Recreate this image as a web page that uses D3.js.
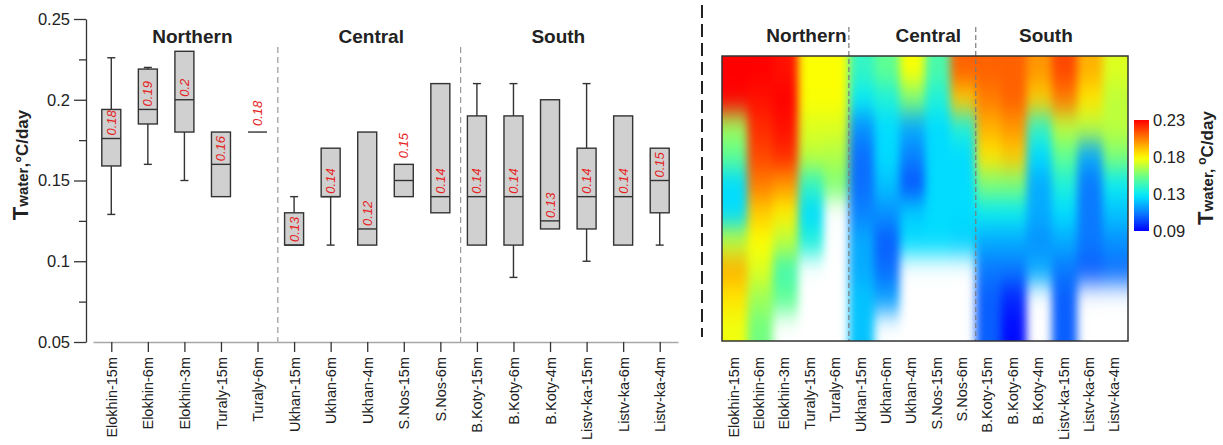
<!DOCTYPE html>
<html>
<head>
<meta charset="utf-8">
<script src="https://cdn.jsdelivr.net/npm/d3@7"></script>
<style>
body { margin: 0; background: #fff; }
svg { display: block; font-family: "Liberation Sans", Arial, sans-serif; }
</style>
</head>
<body>
<script>
// stations, grouped by region
const categories = ["Elokhin-15m", "Elokhin-6m", "Elokhin-3m", "Turaly-15m", "Turaly-6m",
    "Ukhan-15m", "Ukhan-6m", "Ukhan-4m", "S.Nos-15m", "S.Nos-6m",
    "B.Koty-15m", "B.Koty-6m", "B.Koty-4m", "Listv-ka-15m", "Listv-ka-6m", "Listv-ka-4m"]
const groupNames = ["Northern", "Central", "South"]
const groupStart = [0, 5, 10]
const groupEnd = [4, 9, 15]

// box plot values, T water in C/day
const whiskerLow  = [0.129, 0.16, 0.15, 0.14, 0.18, 0.11, 0.11, 0.11, 0.14, 0.13, 0.11, 0.09, 0.12, 0.10, 0.11, 0.11]
const q1          = [0.159, 0.185, 0.18, 0.14, 0.18, 0.11, 0.14, 0.11, 0.14, 0.13, 0.11, 0.11, 0.12, 0.12, 0.11, 0.13]
const median      = [0.176, 0.194, 0.20, 0.16, 0.18, 0.11, 0.14, 0.12, 0.15, 0.14, 0.14, 0.14, 0.125, 0.14, 0.14, 0.15]
const q3          = [0.194, 0.219, 0.23, 0.18, 0.18, 0.13, 0.17, 0.18, 0.16, 0.21, 0.19, 0.19, 0.20, 0.17, 0.19, 0.17]
const whiskerHigh = [0.226, 0.22, 0.23, 0.18, 0.18, 0.14, 0.17, 0.18, 0.16, 0.21, 0.21, 0.21, 0.20, 0.21, 0.19, 0.17]
const meanLabel = ["0.18", "0.19", "0.2", "0.16", "0.18", "0.13", "0.14", "0.12", "0.15", "0.14",
    "0.14", "0.14", "0.13", "0.14", "0.14", "0.15"]

const yTicks = [0.05, 0.1, 0.15, 0.2, 0.25]
const yMinorTicks = [0.075, 0.125, 0.175, 0.225]

// heatmap, one array per station (top row first), null = no data
const heatValues = [
    [0.23, 0.23, 0.165, 0.155, 0.13, 0.13, 0.17, 0.195, 0.185, 0.178],
    [0.23, 0.225, 0.22, 0.215, 0.205, 0.19, 0.18, 0.175, 0.165, 0.158],
    [0.225, 0.23, 0.225, 0.22, 0.2, 0.183, 0.17, 0.148, 0.155, null],
    [0.18, 0.18, 0.175, 0.17, 0.145, 0.13, 0.14, null, null, null],
    [0.18, 0.18, 0.175, 0.168, 0.16, null, null, null, null, null],
    [0.145, 0.135, 0.115, 0.108, 0.108, 0.112, 0.12, 0.12, 0.125, 0.125],
    [0.155, 0.14, 0.13, 0.13, 0.125, 0.115, 0.105, 0.108, 0.118, null],
    [0.18, 0.16, 0.12, 0.112, 0.103, 0.127, 0.13, null, null, null],
    [0.15, 0.14, 0.13, 0.13, 0.13, 0.13, 0.13, null, null, null],
    [0.21, 0.19, 0.14, 0.13, 0.13, 0.13, 0.128, null, null, null],
    [0.21, 0.205, 0.195, 0.185, 0.16, 0.135, 0.12, 0.11, 0.105, 0.105],
    [0.21, 0.21, 0.2, 0.19, 0.16, 0.135, 0.12, 0.11, 0.095, 0.09],
    [0.2, 0.19, 0.145, 0.13, 0.12, 0.12, 0.115, 0.12, null, null],
    [0.215, 0.205, 0.17, 0.155, 0.14, 0.13, 0.12, 0.11, 0.105, 0.105],
    [0.195, 0.185, 0.17, 0.12, 0.11, 0.11, 0.11, 0.105, null, null],
    [0.175, 0.17, 0.17, 0.16, 0.135, 0.125, 0.115, 0.108, null, null]
]
const cbTicks = [0.088, 0.1347, 0.1813, 0.228]

const m = { width: 1223, height: 445 }

const svg = d3.select("body").append("svg")
    .attr("width", m.width)
    .attr("height", m.height)

const defs = svg.append("defs")

// ---------- left: box plots ----------
const x = d3.scalePoint().domain(categories).range([93, 678]).padding(0.5)
const y = d3.scaleLinear().domain([0.05, 0.25]).range([342, 19])

const g = svg.append("g")

// separators between regions
for (let k = 0; k < 2; k++) {
    const sx = (x(categories[groupEnd[k]]) + x(categories[groupStart[k + 1]])) / 2 + 2
    g.append("line")
        .attr("x1", sx).attr("x2", sx)
        .attr("y1", 47).attr("y2", 342)
        .attr("stroke", "#9a9a9a").attr("stroke-width", 1.2)
        .attr("stroke-dasharray", "6,4")
}

const xAxis = g.append("g")
    .attr("transform", "translate(0,342)")
    .call(d3.axisBottom(x).tickSize(10).tickSizeOuter(0).tickPadding(4))
xAxis.select(".domain").attr("stroke", "#a8a8a8").attr("stroke-width", 1.3)
xAxis.selectAll(".tick line").attr("stroke", "#333").attr("stroke-width", 1.3)
xAxis.selectAll(".tick text")
    .attr("transform", "rotate(-90)")
    .attr("text-anchor", "end")
    .attr("x", -15).attr("y", 0).attr("dy", "0.35em")
    .style("font-size", "14.5px").attr("fill", "#222")

const yAxis = g.append("g")
    .attr("transform", "translate(86,0)")
    .call(d3.axisLeft(y).tickValues(yTicks).tickSize(12).tickSizeOuter(0).tickPadding(4)
        .tickFormat(d => String(+d.toFixed(2))))
yAxis.select(".domain").attr("stroke", "#333").attr("stroke-width", 1.3)
yAxis.selectAll(".tick line").attr("stroke", "#333").attr("stroke-width", 1.3)
yAxis.selectAll(".tick text").style("font-size", "16.5px").attr("fill", "#222")

const yMinor = g.append("g")
    .attr("transform", "translate(86,0)")
    .call(d3.axisLeft(y).tickValues(yMinorTicks).tickSize(7).tickFormat(""))
yMinor.select(".domain").remove()
yMinor.selectAll(".tick line").attr("stroke", "#333").attr("stroke-width", 1.3)

// y title
const yt = g.append("text")
    .attr("transform", "translate(28,165) rotate(-90)")
    .attr("text-anchor", "middle")
    .attr("fill", "#222").attr("font-weight", "bold")
yt.append("tspan").style("font-size", "22px").text("T")
yt.append("tspan").style("font-size", "15px").text("water")
yt.append("tspan").style("font-size", "17px").text(",°C/day")

// group titles
const leftShift = [8, 4, -10]
groupNames.forEach((name, k) => {
    g.append("text")
        .attr("x", (x(categories[groupStart[k]]) + x(categories[groupEnd[k]])) / 2 + leftShift[k])
        .attr("y", 43)
        .attr("text-anchor", "middle")
        .attr("font-weight", "bold")
        .style("font-size", "19px")
        .attr("fill", "#222")
        .text(name)
})

const boxW = 19
categories.forEach((c, i) => {
    const cx = x(c)
    const b = g.append("g")
    if (whiskerHigh[i] > q3[i]) {
        b.append("line").attr("x1", cx).attr("x2", cx)
            .attr("y1", y(q3[i])).attr("y2", y(whiskerHigh[i]))
        b.append("line").attr("x1", cx - 4).attr("x2", cx + 4)
            .attr("y1", y(whiskerHigh[i])).attr("y2", y(whiskerHigh[i]))
    }
    if (whiskerLow[i] < q1[i]) {
        b.append("line").attr("x1", cx).attr("x2", cx)
            .attr("y1", y(q1[i])).attr("y2", y(whiskerLow[i]))
        b.append("line").attr("x1", cx - 4).attr("x2", cx + 4)
            .attr("y1", y(whiskerLow[i])).attr("y2", y(whiskerLow[i]))
    }
    b.append("rect")
        .attr("x", cx - boxW / 2).attr("y", y(q3[i]))
        .attr("width", boxW).attr("height", y(q1[i]) - y(q3[i]))
        .attr("fill", "#d0d0d0")
    b.append("line")
        .attr("x1", cx - boxW / 2).attr("x2", cx + boxW / 2)
        .attr("y1", y(median[i])).attr("y2", y(median[i]))
    b.selectAll("line").attr("stroke", "#333").attr("stroke-width", 1.4)
    b.select("rect").attr("stroke", "#333").attr("stroke-width", 1.4)

    const lab = b.append("text")
        .attr("text-anchor", "start")
        .attr("font-style", "italic")
        .style("font-size", "13px")
        .attr("fill", "#e62222")
        .text(meanLabel[i])
    const len = lab.node().getComputedTextLength()
    let ay = y(median[i]) - 3
    if (ay - len < y(q3[i]) - 1) ay = y(q3[i]) - 6
    lab.attr("transform", `translate(${cx + 4.5},${ay}) rotate(-90)`)
})

// ---------- big dashed divider ----------
svg.append("line")
    .attr("x1", 702).attr("x2", 702)
    .attr("y1", 5).attr("y2", 337)
    .attr("stroke", "#222").attr("stroke-width", 2)
    .attr("stroke-dasharray", "13,6")

// ---------- right: heatmap ----------
const frame = { x: 722, y: 56, w: 406, h: 285 }
const nRows = heatValues[0].length
const nCols = categories.length
const xh = d3.scaleBand().domain(categories).range([frame.x, frame.x + frame.w])
const yh = d3.scaleBand().domain(d3.range(nRows)).range([frame.y, frame.y + frame.h])

const lo = cbTicks[0], hi = cbTicks[cbTicks.length - 1]
const jetStops = [0, 0.15, 0.32, 0.48, 0.66, 0.83, 1]
const jetColors = ["#0000ff", "#0a74ff", "#00eaff", "#60ff90", "#ffff00", "#ff8000", "#ff0000"]
const color = d3.scaleLinear()
    .domain(jetStops.map(t => lo + t * (hi - lo)))
    .range(jetColors)
    .clamp(true)

// smoothed heatmap: cells blurred with a gaussian, missing cells are white
function erf(z) {
    const s = z < 0 ? -1 : 1
    z = Math.abs(z)
    const t = 1 / (1 + 0.3275911 * z)
    const p = t * (0.254829592 + t * (-0.284496736 + t * (1.421413741 + t * (-1.453152027 + t * 1.061405429))))
    return s * (1 - p * Math.exp(-z * z))
}
const Phi = z => 0.5 * (1 + erf(z / Math.SQRT2))
const sigX = 4.5, sigY = 12

function weights(n, size, start, end, sig) {
    // w[p][k] = share of cell k seen by pixel p
    const out = []
    for (let p = 0; p < size; p++) {
        const pc = p + 0.5
        const row = []
        for (let k = 0; k < n; k++) {
            const a = k === 0 ? -1e9 : start(k)
            const b = k === n - 1 ? 1e9 : end(k)
            row.push(Phi((b - pc) / sig) - Phi((a - pc) / sig))
        }
        out.push(row)
    }
    return out
}
const wx = weights(nCols, frame.w,
    k => xh(categories[k]) - frame.x, k => xh(categories[k]) + xh.bandwidth() - frame.x, sigX)
const wy = weights(nRows, frame.h,
    k => yh(k) - frame.y, k => yh(k) + yh.bandwidth() - frame.y, sigY)

const rgb = heatValues.map(col => col.map(v => v == null ? d3.rgb(255, 255, 255) : d3.rgb(color(v))))

const canvas = document.createElement("canvas")
canvas.width = frame.w
canvas.height = frame.h
const ctx = canvas.getContext("2d")
const img = ctx.createImageData(frame.w, frame.h)
for (let py = 0; py < frame.h; py++) {
    for (let px = 0; px < frame.w; px++) {
        let r = 0, gg = 0, b = 0
        for (let i = 0; i < nCols; i++) {
            const a = wx[px][i]
            if (a < 1e-5) continue
            for (let j = 0; j < nRows; j++) {
                const w = a * wy[py][j]
                if (w < 1e-6) continue
                const c = rgb[i][j]
                r += w * c.r; gg += w * c.g; b += w * c.b
            }
        }
        const o = (py * frame.w + px) * 4
        img.data[o] = r; img.data[o + 1] = gg; img.data[o + 2] = b; img.data[o + 3] = 255
    }
}
ctx.putImageData(img, 0, 0)

svg.append("image")
    .attr("x", frame.x).attr("y", frame.y)
    .attr("width", frame.w).attr("height", frame.h)
    .attr("preserveAspectRatio", "none")
    .attr("href", canvas.toDataURL("image/png"))

// region separators in the heatmap
for (let k = 1; k < 3; k++) {
    const sx = xh(categories[groupStart[k]])
    svg.append("line")
        .attr("x1", sx).attr("x2", sx)
        .attr("y1", 27).attr("y2", frame.y + frame.h)
        .attr("stroke", "#7a7a7a").attr("stroke-width", 1.2)
        .attr("stroke-dasharray", "5,3")
}

svg.append("rect")
    .attr("x", frame.x).attr("y", frame.y)
    .attr("width", frame.w).attr("height", frame.h)
    .attr("fill", "none").attr("stroke", "#333").attr("stroke-width", 1.5)

const rightShift = [21, 16, -6]
groupNames.forEach((name, k) => {
    svg.append("text")
        .attr("x", (xh(categories[groupStart[k]]) + xh(categories[groupEnd[k]]) + xh.bandwidth()) / 2 + rightShift[k])
        .attr("y", 42)
        .attr("text-anchor", "middle")
        .attr("font-weight", "bold")
        .style("font-size", "19px")
        .attr("fill", "#222")
        .text(name)
})

svg.append("g").selectAll("text")
    .data(categories)
    .enter()
    .append("text")
        .attr("transform", d => `translate(${xh(d) + xh.bandwidth() / 2 + 4},357) rotate(-90)`)
        .attr("text-anchor", "end")
        .style("font-size", "14.5px")
        .attr("fill", "#222")
        .text(d => d)

// colorbar
const cb = { x: 1134, w: 15 }
const cbY = d3.scaleLinear().domain([lo, hi]).range([231, 120])
const grad = defs.append("linearGradient").attr("id", "cbgrad")
    .attr("x1", 0).attr("y1", 1).attr("x2", 0).attr("y2", 0)
d3.range(0, 1.0001, 0.05).forEach(t => {
    grad.append("stop").attr("offset", t).attr("stop-color", color(lo + t * (hi - lo)))
})
svg.append("rect")
    .attr("x", cb.x).attr("y", cbY(hi))
    .attr("width", cb.w).attr("height", cbY(lo) - cbY(hi))
    .attr("fill", "url(#cbgrad)")

const cbAxis = svg.append("g")
    .attr("transform", `translate(${cb.x + cb.w},0)`)
    .call(d3.axisRight(cbY).tickValues(cbTicks).tickSize(0).tickPadding(4).tickFormat(d3.format(".2f")))
cbAxis.select(".domain").remove()
cbAxis.selectAll(".tick text").style("font-size", "16.5px").attr("fill", "#222")

const ct = svg.append("text")
    .attr("transform", "translate(1213,168) rotate(-90)")
    .attr("text-anchor", "middle")
    .attr("fill", "#222").attr("font-weight", "bold")
ct.append("tspan").style("font-size", "22px").text("T")
ct.append("tspan").style("font-size", "15px").text("water, ")
ct.append("tspan").style("font-size", "12px").attr("dy", -7).text("o")
ct.append("tspan").style("font-size", "17px").attr("dy", 7).text("C/day")
</script>
</body>
</html>
